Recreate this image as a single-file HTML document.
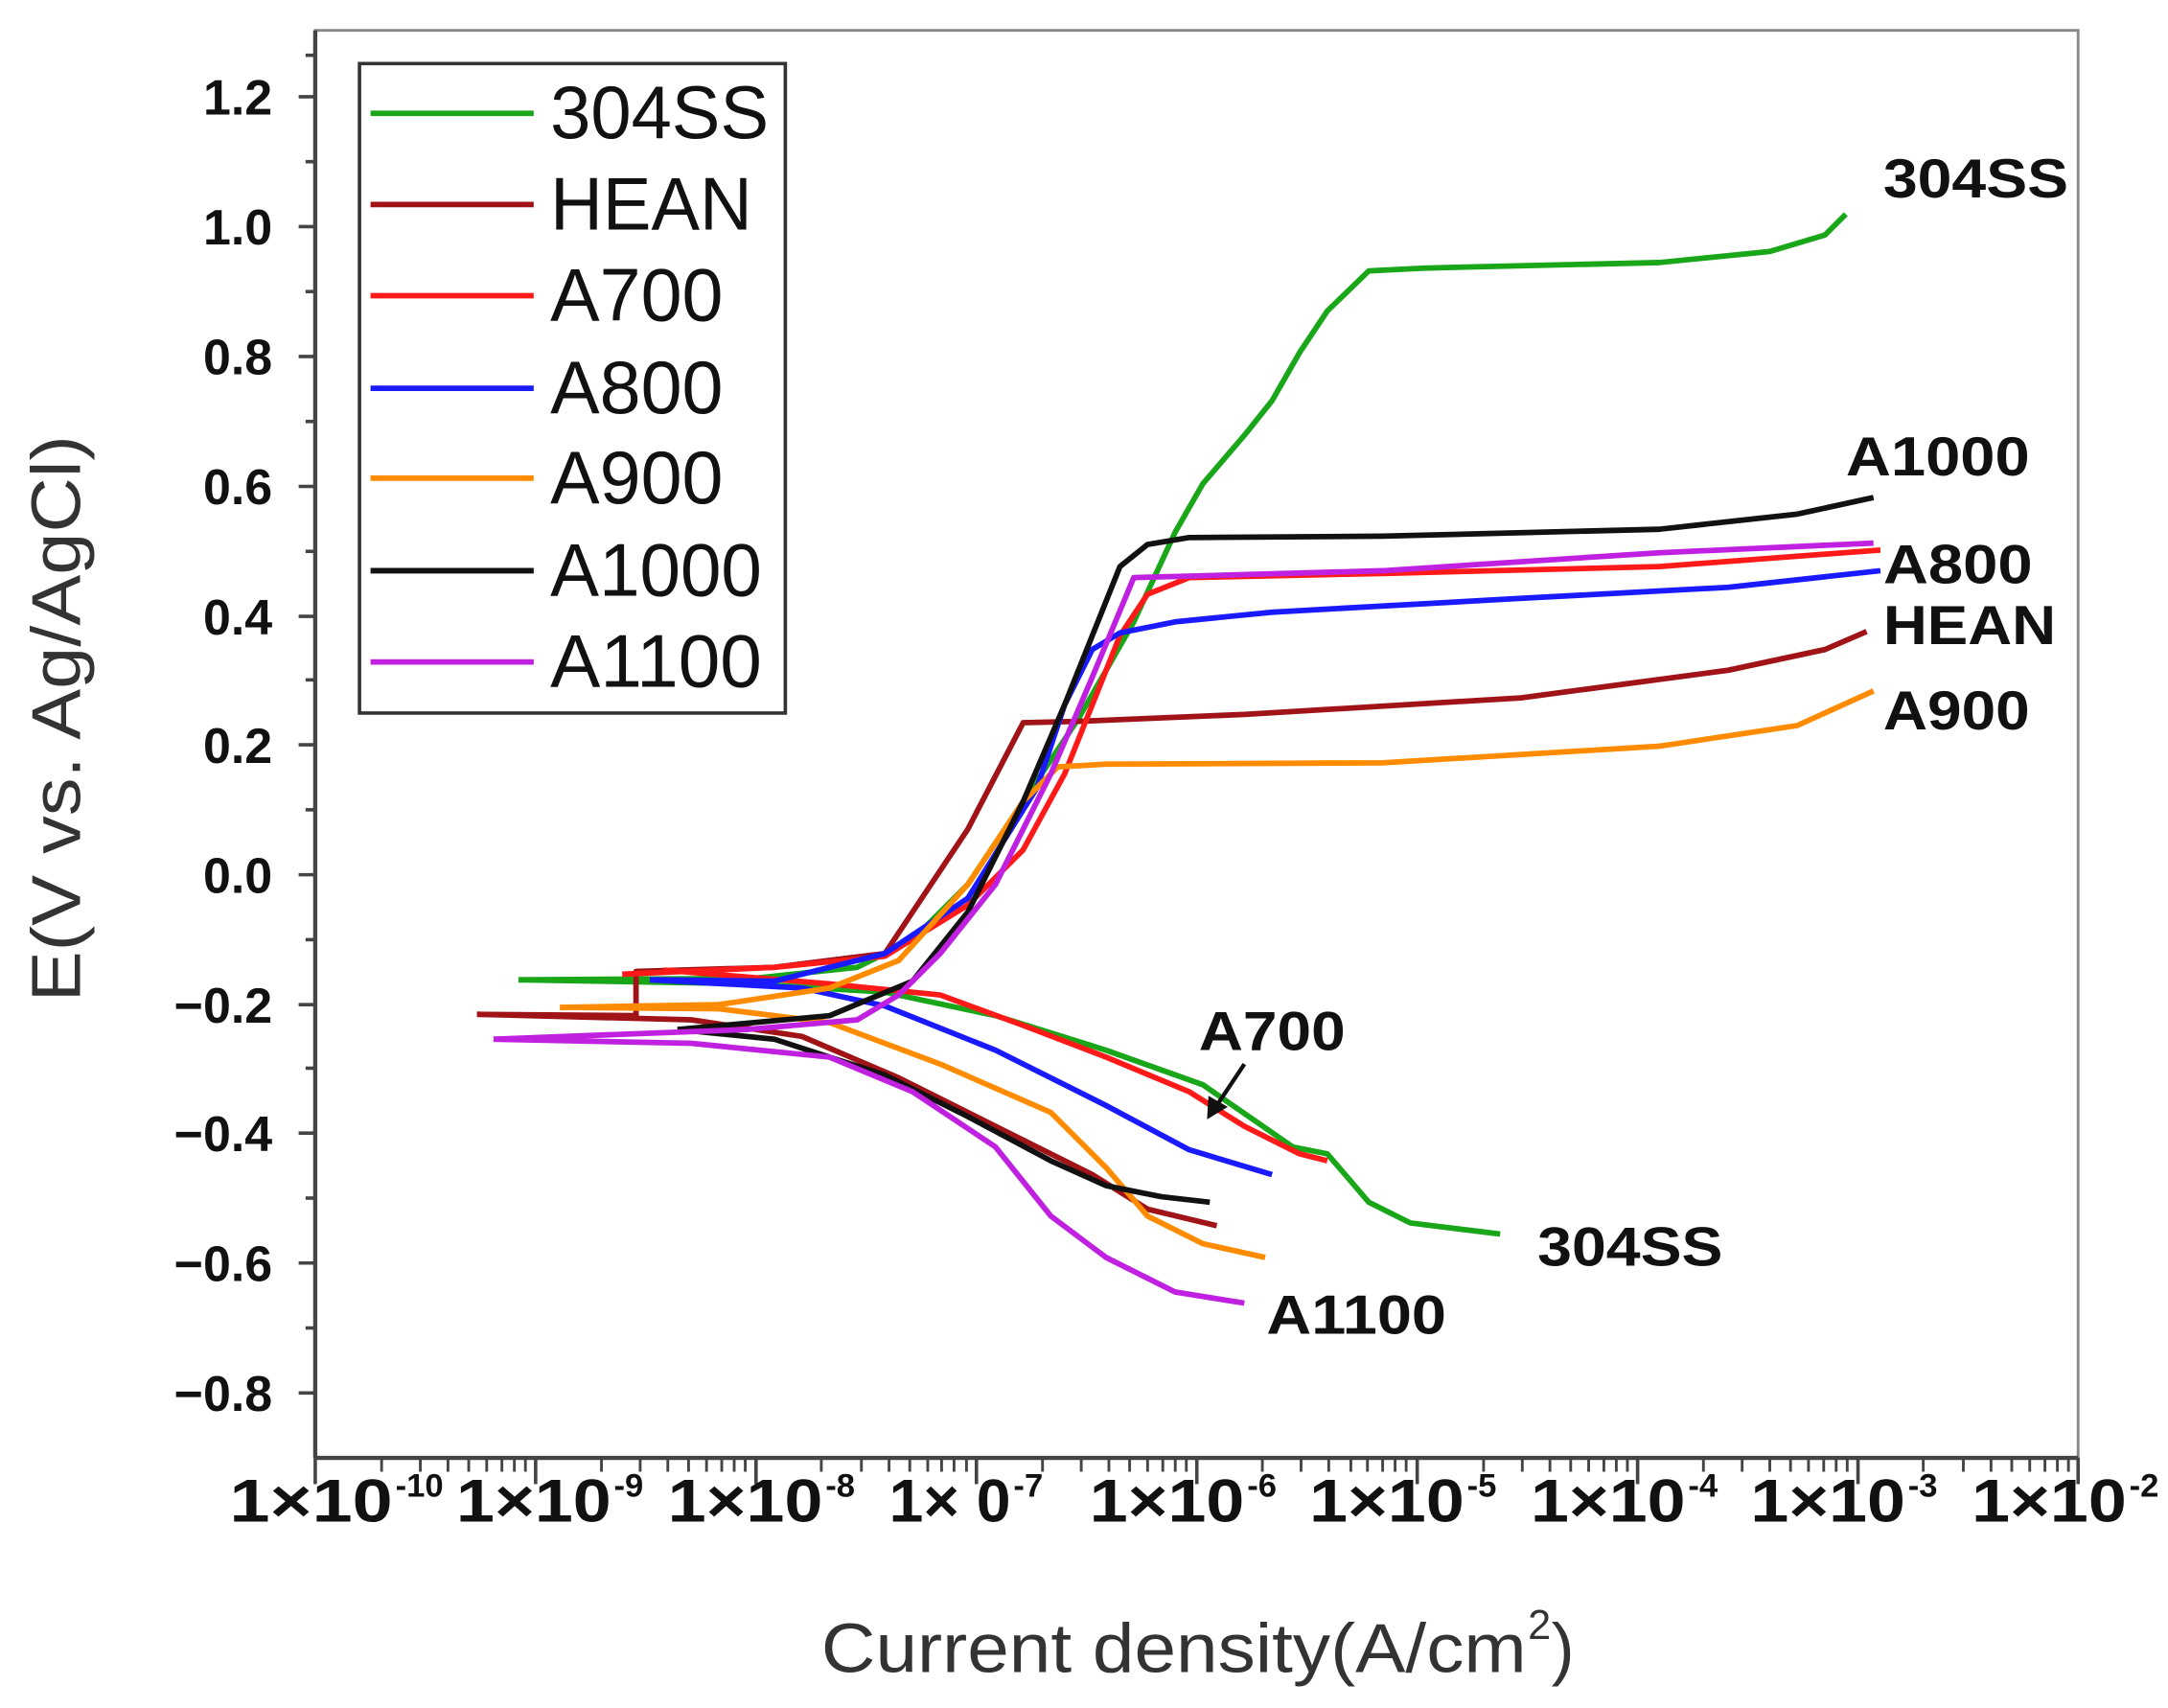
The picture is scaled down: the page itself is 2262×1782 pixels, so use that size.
<!DOCTYPE html>
<html><head><meta charset="utf-8"><style>html,body{margin:0;padding:0;background:#fff}svg{display:block}</style></head>
<body>
<svg width="2262" height="1782" viewBox="0 0 1568 1236" preserveAspectRatio="none" xmlns="http://www.w3.org/2000/svg" font-family="Liberation Sans, Arial, sans-serif">
<rect width="1568" height="1236" fill="#fff"/>
<rect x="228" y="22" width="1275" height="1033" fill="none" stroke="#888" stroke-width="2"/>
<line x1="228" y1="1055" x2="1503" y2="1055" stroke="#444" stroke-width="3"/>
<line x1="228" y1="22" x2="228" y2="1055" stroke="#444" stroke-width="3"/>
<g stroke="#444" stroke-width="2.5">
<line x1="216" y1="70" x2="228" y2="70"/><line x1="216" y1="164" x2="228" y2="164"/><line x1="216" y1="258" x2="228" y2="258"/><line x1="216" y1="352" x2="228" y2="352"/><line x1="216" y1="446" x2="228" y2="446"/><line x1="216" y1="539" x2="228" y2="539"/><line x1="216" y1="633" x2="228" y2="633"/><line x1="216" y1="727" x2="228" y2="727"/><line x1="216" y1="820" x2="228" y2="820"/><line x1="216" y1="914" x2="228" y2="914"/><line x1="216" y1="1008" x2="228" y2="1008"/>
<line x1="221" y1="117" x2="228" y2="117"/><line x1="221" y1="211" x2="228" y2="211"/><line x1="221" y1="305" x2="228" y2="305"/><line x1="221" y1="399" x2="228" y2="399"/><line x1="221" y1="492" x2="228" y2="492"/><line x1="221" y1="586" x2="228" y2="586"/><line x1="221" y1="680" x2="228" y2="680"/><line x1="221" y1="773" x2="228" y2="773"/><line x1="221" y1="867" x2="228" y2="867"/><line x1="221" y1="961" x2="228" y2="961"/><line x1="221" y1="40" x2="228" y2="40"/>
</g>
<g stroke="#444" stroke-width="2.5">
<line x1="228" y1="1055" x2="228" y2="1074"/><line x1="387.4" y1="1055" x2="387.4" y2="1074"/><line x1="546.8" y1="1055" x2="546.8" y2="1074"/><line x1="706.2" y1="1055" x2="706.2" y2="1074"/><line x1="865.6" y1="1055" x2="865.6" y2="1074"/><line x1="1025" y1="1055" x2="1025" y2="1074"/><line x1="1184.4" y1="1055" x2="1184.4" y2="1074"/><line x1="1343.8" y1="1055" x2="1343.8" y2="1074"/><line x1="1503" y1="1055" x2="1503" y2="1074"/>
</g>
<path stroke="#444" stroke-width="2" fill="none" d="
M276,1055v10M304,1055v10M324,1055v10M339,1055v10M352,1055v10M363,1055v10M372,1055v10M380,1055v10
M435,1055v10M463,1055v10M483,1055v10M498,1055v10M511,1055v10M522,1055v10M531,1055v10M539,1055v10
M594,1055v10M623,1055v10M643,1055v10M658,1055v10M671,1055v10M681,1055v10M690,1055v10M699,1055v10
M754,1055v10M782,1055v10M802,1055v10M817,1055v10M830,1055v10M841,1055v10M850,1055v10M858,1055v10
M913,1055v10M941,1055v10M961,1055v10M977,1055v10M989,1055v10M1000,1055v10M1009,1055v10M1017,1055v10
M1073,1055v10M1101,1055v10M1121,1055v10M1136,1055v10M1149,1055v10M1160,1055v10M1169,1055v10M1177,1055v10
M1232,1055v10M1260,1055v10M1280,1055v10M1295,1055v10M1308,1055v10M1319,1055v10M1328,1055v10M1336,1055v10
M1391,1055v10M1420,1055v10M1440,1055v10M1455,1055v10M1468,1055v10M1479,1055v10M1488,1055v10M1496,1055v10"/>
<g font-weight="bold" font-size="36" text-anchor="end" fill="#111">
<text x="197" y="83">1.2</text><text x="197" y="177">1.0</text><text x="197" y="271">0.8</text><text x="197" y="365">0.6</text><text x="197" y="459">0.4</text><text x="197" y="552">0.2</text><text x="197" y="646">0.0</text><text x="197" y="740">−0.2</text><text x="197" y="833">−0.4</text><text x="197" y="927">−0.6</text><text x="197" y="1021">−0.8</text>
</g>
<g font-weight="bold" font-size="44" fill="#111">
<text x="166" y="1101" textLength="118" lengthAdjust="spacingAndGlyphs">1×10</text><text x="286" y="1083" font-size="24">-10</text>
<text x="330" y="1101" textLength="112" lengthAdjust="spacingAndGlyphs">1×10</text><text x="444" y="1083" font-size="24">-9</text>
<text x="483" y="1101" textLength="112" lengthAdjust="spacingAndGlyphs">1×10</text><text x="597" y="1083" font-size="24">-8</text>
<text x="643" y="1101" textLength="88" lengthAdjust="spacingAndGlyphs">1× 0</text><text x="733" y="1083" font-size="24">-7</text>
<text x="788" y="1101" textLength="112" lengthAdjust="spacingAndGlyphs">1×10</text><text x="902" y="1083" font-size="24">-6</text>
<text x="947" y="1101" textLength="112" lengthAdjust="spacingAndGlyphs">1×10</text><text x="1061" y="1083" font-size="24">-5</text>
<text x="1107" y="1101" textLength="112" lengthAdjust="spacingAndGlyphs">1×10</text><text x="1221" y="1083" font-size="24">-4</text>
<text x="1266" y="1101" textLength="112" lengthAdjust="spacingAndGlyphs">1×10</text><text x="1380" y="1083" font-size="24">-3</text>
<text x="1426" y="1101" textLength="112" lengthAdjust="spacingAndGlyphs">1×10</text><text x="1540" y="1083" font-size="24">-2</text>
</g>
<text x="594" y="1210" font-size="50" fill="#333" textLength="510" lengthAdjust="spacingAndGlyphs">Current density(A/cm</text><text x="1105" y="1186" font-size="30" fill="#333">2</text><text x="1122" y="1210" font-size="50" fill="#333">)</text>
<text transform="translate(58,520) rotate(-90)" text-anchor="middle" font-size="50" fill="#333" textLength="410" lengthAdjust="spacingAndGlyphs">E(V vs. Ag/AgCl)</text>
<g fill="none" stroke-width="4" stroke-linejoin="round">
<polyline stroke="#19a619" points="375,709 545,712 640,718 720,735 800,760 870,785 935,830 960,835 990,870 1020,885 1085,893"/>
<polyline stroke="#19a619" points="375,709 545,708 620,700 660,680 700,640 740,580 780,520 820,450 850,385 870,350 900,315 920,290 940,255 960,225 990,196 1030,194 1200,190 1280,182 1320,170 1335,155"/>
<polyline stroke="#a01418" points="345,734 500,738 580,750 650,780 720,815 790,850 830,875 880,887"/>
<polyline stroke="#a01418" points="345,734 460,735 460,703 560,700 640,690 660,660 700,600 740,523 780,522 900,517 1100,505 1250,485 1320,470 1350,457"/>
<polyline stroke="#ff1a1a" points="480,702 600,712 680,720 740,742 800,765 860,790 900,815 940,835 960,840"/>
<polyline stroke="#ff1a1a" points="450,705 560,700 640,692 700,655 740,615 770,560 790,510 810,460 830,430 860,418 1000,415 1200,410 1360,398"/>
<polyline stroke="#1a1aff" points="470,709 580,715 640,728 720,760 800,800 860,832 920,850"/>
<polyline stroke="#1a1aff" points="470,709 560,710 640,690 700,650 750,570 770,510 790,470 810,458 850,450 920,443 1100,433 1250,425 1360,413"/>
<polyline stroke="#ff8c00" points="405,729 520,730 600,740 680,770 760,805 800,845 830,880 870,900 915,910"/>
<polyline stroke="#ff8c00" points="405,729 520,727 600,715 650,695 700,640 740,580 765,555 800,553 1000,552 1200,540 1300,525 1355,500"/>
<polyline stroke="#111" points="490,745 560,752 640,778 700,808 760,840 800,858 840,866 875,870"/>
<polyline stroke="#111" points="490,745 600,735 660,710 700,660 740,580 770,510 790,460 810,410 830,394 860,389 1000,388 1200,383 1300,372 1355,360"/>
<polyline stroke="#c020e0" points="357,752 500,755 600,765 660,790 720,830 760,880 800,910 850,935 900,943"/>
<polyline stroke="#c020e0" points="357,752 540,745 620,738 650,720 680,690 720,640 760,560 790,490 820,418 1000,413 1200,400 1355,393"/>
</g>
<line x1="900" y1="770" x2="880" y2="800" stroke="#111" stroke-width="3"/>
<polygon points="873,810 874,793 888,801" fill="#111"/>
<g font-weight="bold" font-size="40" fill="#111">
<text x="1362" y="143" textLength="134" lengthAdjust="spacingAndGlyphs">304SS</text><text x="1335" y="344" textLength="133" lengthAdjust="spacingAndGlyphs">A1000</text><text x="1362" y="422" textLength="108" lengthAdjust="spacingAndGlyphs">A800</text><text x="1362" y="466" textLength="125" lengthAdjust="spacingAndGlyphs">HEAN</text><text x="1362" y="528" textLength="106" lengthAdjust="spacingAndGlyphs">A900</text><text x="867" y="760" textLength="106" lengthAdjust="spacingAndGlyphs">A700</text><text x="1112" y="916" textLength="134" lengthAdjust="spacingAndGlyphs">304SS</text><text x="916" y="965" textLength="130" lengthAdjust="spacingAndGlyphs">A1100</text>
</g>
<rect x="260" y="46" width="308" height="470" fill="#fff" stroke="#333" stroke-width="2.5"/>
<g stroke-width="4">
<line x1="268" y1="82" x2="386" y2="82" stroke="#19a619"/>
<line x1="268" y1="148" x2="386" y2="148" stroke="#a01418"/>
<line x1="268" y1="214" x2="386" y2="214" stroke="#ff1a1a"/>
<line x1="268" y1="281" x2="386" y2="281" stroke="#1a1aff"/>
<line x1="268" y1="346" x2="386" y2="346" stroke="#ff8c00"/>
<line x1="268" y1="413" x2="386" y2="413" stroke="#111"/>
<line x1="268" y1="479" x2="386" y2="479" stroke="#c020e0"/>
</g>
<g font-size="54" fill="#111">
<text x="398" y="100" textLength="158" lengthAdjust="spacingAndGlyphs">304SS</text><text x="398" y="166" textLength="146" lengthAdjust="spacingAndGlyphs">HEAN</text><text x="398" y="232" textLength="125" lengthAdjust="spacingAndGlyphs">A700</text><text x="398" y="299" textLength="125" lengthAdjust="spacingAndGlyphs">A800</text><text x="398" y="364" textLength="125" lengthAdjust="spacingAndGlyphs">A900</text><text x="398" y="431" textLength="153" lengthAdjust="spacingAndGlyphs">A1000</text><text x="398" y="497" textLength="153" lengthAdjust="spacingAndGlyphs">A1100</text>
</g>
</svg>
</body></html>
